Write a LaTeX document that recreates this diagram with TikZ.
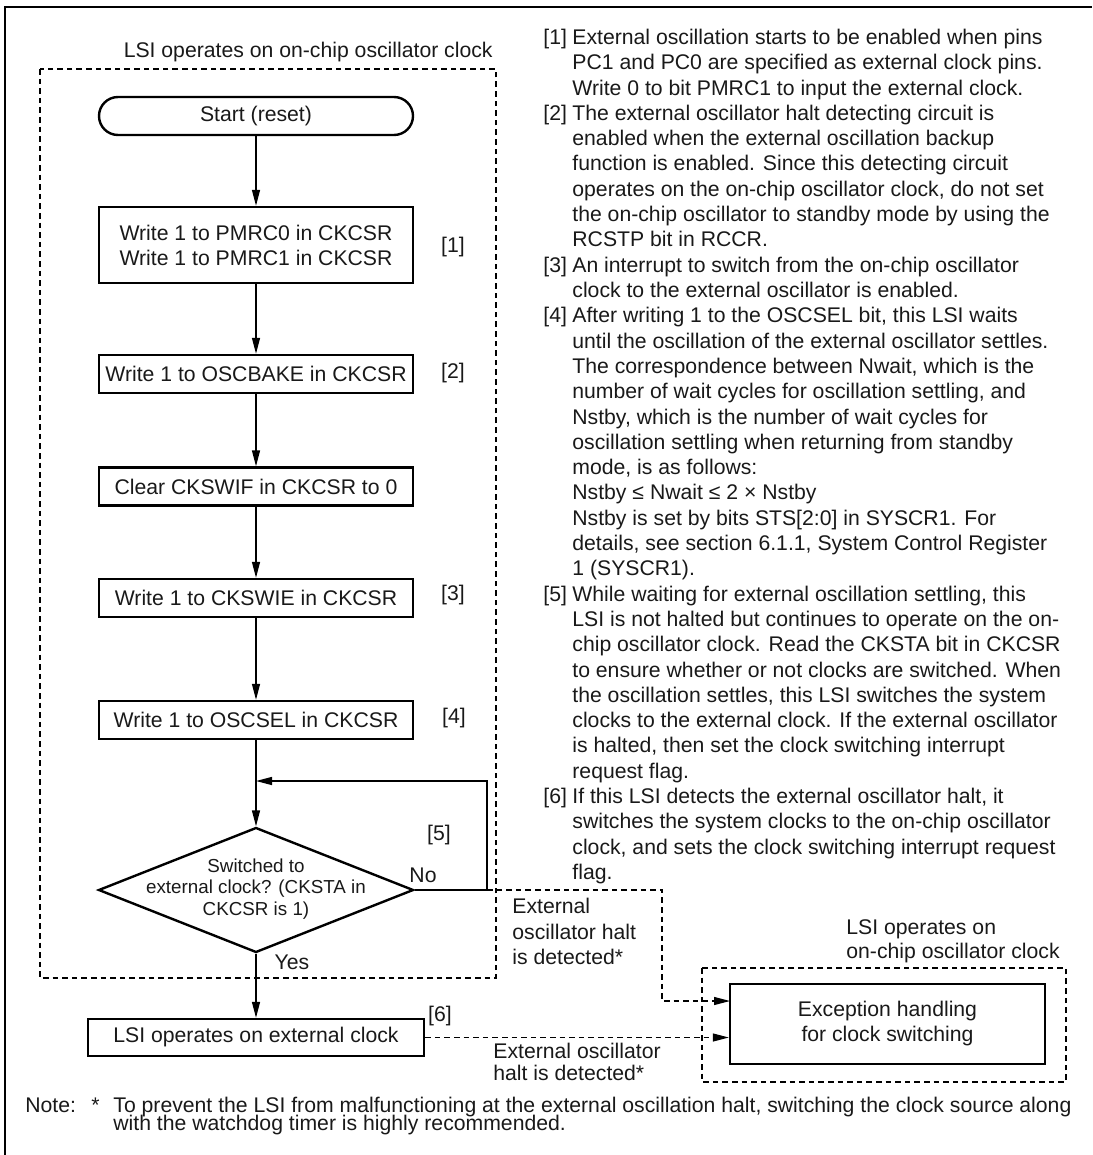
\documentclass[tikz,border=0pt]{standalone}
\usepackage{fontspec}
\setmainfont{Liberation Sans}
\usetikzlibrary{arrows.meta,shapes.geometric}

\begin{document}
\begin{tikzpicture}[x=0.5pt,y=-0.5pt,>={Triangle[length=8pt,width=4pt]},
	every node/.style={font=\fontsize{10.6}{12.5}\selectfont,inner sep=0pt,text=black!90},
	box/.style={draw,line width=1.2pt,minimum width=157pt,minimum height=19pt,align=center},
	term/.style={box,rounded corners=9.5pt},
	decision/.style={draw,diamond,line width=1.2pt,minimum width=157.5pt,minimum height=62.5pt},
	link/.style={line width=0.7pt},
	dline/.style={line width=0.6pt,dash pattern=on 2.8pt off 2pt},
	line/.style={anchor=base west}]
	\useasboundingbox (0,0) rectangle (1092,1155);
	\draw[line width=1.2pt] (5,1155)--(5,7)--(1092,7);
	% left part
	\node[anchor=base east] (top) at (493,58) {LSI operates on on-chip oscillator clock};
	\draw[dline] (40,69) rectangle (496,978);
	\node[term] (0) at (256,116) {Start (reset)};
	\node[box,minimum height=38pt] (1) at (256,245) {Write 1 to PMRC0 in CKCSR\\Write 1 to PMRC1 in CKCSR};
	\node[box] (2) at (256,374) {Write 1 to OSCBAKE in CKCSR};
	\node[box] (3) at (256,486.5) {Clear CKSWIF in CKCSR to 0};
	\node[box] (4) at (256,598) {Write 1 to CKSWIE in CKCSR};
	\node[box] (5) at (256,720) {Write 1 to OSCSEL in CKCSR};
	\node[decision] (6) at (256,890) {};
	\node[font=\fontsize{9.4}{10.8}\selectfont,align=center] (6t) at (256,889) {Switched to\\external clock? (CKSTA in\\CKCSR is 1)};
	\node[box,minimum width=168pt,minimum height=18.5pt] (7) at (256,1037.5) {LSI operates on external clock};
	\node[box,minimum width=157.5pt,minimum height=40pt] (8) at (887.5,1024) {Exception handling\\for clock switching};
	\draw[dline] (702,968) rectangle (1066,1082);
	\node (n1) at (453,247) {[1]};
	\node (n2) at (453,373) {[2]};
	\node (n3) at (453,595) {[3]};
	\node (n4) at (454,718) {[4]};
	\node (n5) at (439,835) {[5]};
	\node (n6) at (440,1016) {[6]};
	\coordinate (j) at (256,781);
	\coordinate (k) at (487,781);
	\coordinate (h) at (487,890);
	\coordinate (h2) at (662,1001);
	\coordinate (e1) at (730,1001);
	\foreach \a/\b in {0/1,1/2,2/3,3/4,4/5,5/6}
		\draw[link,->] (\a)--(\b);
	\draw[link,->] (6.east)-|(k)--(j);
	\node (no) at (423,875) {No};
	\draw[link,->] (6)--(7);
	\node (yes) at (292,962) {Yes};
	\draw[dline,->] (h)-|(h2)--(e1);
	\draw[dline,->] (7)--(7 -| 8.west);
	\node[line] (a1) at (512,913) {External};
	\node[line] (a2) at (512,939) {oscillator halt};
	\node[line] (a3) at (512,964) {is detected*};
	\node[line] (a4) at (493,1058) {External oscillator};
	\node[line] (a5) at (493,1080) {halt is detected*};
	\node[line] (c1) at (846,934) {LSI operates on};
	\node[line] (c2) at (846,958) {on-chip oscillator clock};
	% notes on the right
	\foreach \k/\n in {1/0,2/3,3/9,4/11,5/22,6/30}
		\node[line] (b\k) at (543,{44.5+25.3*\n}) {[\k]};
	\foreach \t [count=\n from 0] in {{External oscillation starts to be enabled when pins},
		{PC1 and PC0 are specified as external clock pins.},
		{Write 0 to bit PMRC1 to input the external clock.},
		{The external oscillator halt detecting circuit is},
		{enabled when the external oscillation backup},
		{function is enabled. Since this detecting circuit},
		{operates on the on-chip oscillator clock, do not set},
		{the on-chip oscillator to standby mode by using the},
		{RCSTP bit in RCCR.},
		{An interrupt to switch from the on-chip oscillator},
		{clock to the external oscillator is enabled.},
		{After writing 1 to the OSCSEL bit, this LSI waits},
		{until the oscillation of the external oscillator settles.},
		{The correspondence between Nwait, which is the},
		{number of wait cycles for oscillation settling, and},
		{Nstby, which is the number of wait cycles for},
		{oscillation settling when returning from standby},
		{mode, is as follows:},
		{Nstby ≤ Nwait ≤ 2 × Nstby},
		{Nstby is set by bits STS[2:0] in SYSCR1. For},
		{details, see section 6.1.1, System Control Register},
		{1 (SYSCR1).},
		{While waiting for external oscillation settling, this},
		{LSI is not halted but continues to operate on the on-},
		{chip oscillator clock. Read the CKSTA bit in CKCSR},
		{to ensure whether or not clocks are switched. When},
		{the oscillation settles, this LSI switches the system},
		{clocks to the external clock. If the external oscillator},
		{is halted, then set the clock switching interrupt},
		{request flag.},
		{If this LSI detects the external oscillator halt, it},
		{switches the system clocks to the on-chip oscillator},
		{clock, and sets the clock switching interrupt request},
		{flag.}}
		\node[line] (r\n) at (572,{44.5+25.3*\n}) {\t};
	% footnote
	\node[line] (note) at (25,1112) {Note:};
	\node[line] (star) at (91,1112) {*};
	\node[line] (f1) at (113,1112) {To prevent the LSI from malfunctioning at the external oscillation halt, switching the clock source along};
	\node[line] (f2) at (113,1130) {with the watchdog timer is highly recommended.};
\end{tikzpicture}
\end{document}
